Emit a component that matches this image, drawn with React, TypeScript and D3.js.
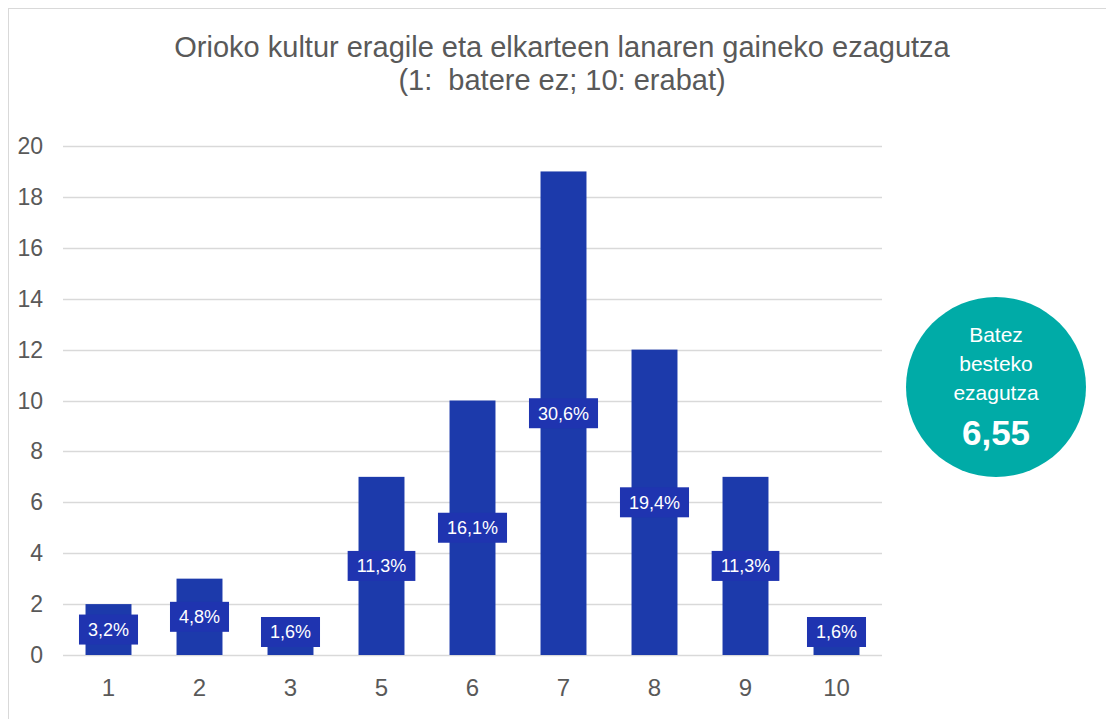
import { useEffect, useRef } from "react";
import * as d3 from "d3";

const categories = ["1", "2", "3", "5", "6", "7", "8", "9", "10"];
const counts = [2, 3, 1, 7, 10, 19, 12, 7, 1];
const percentLabels = ["3,2%", "4,8%", "1,6%", "11,3%", "16,1%", "30,6%", "19,4%", "11,3%", "1,6%"];
const yTicks = [0, 2, 4, 6, 8, 10, 12, 14, 16, 18, 20];
const titleLines = ["Orioko kultur eragile eta elkarteen lanaren gaineko ezagutza", "(1:  batere ez; 10: erabat)"];
const badgeLines = ["Batez", "besteko", "ezagutza"];
const badgeValue = "6,55";

export default function App() {
  const ref = useRef<SVGSVGElement>(null);

  useEffect(() => {
    if (!ref.current) return;
    const svg = d3.select(ref.current);
    svg.selectAll("*").remove();

    const width = 1106;
    const height = 719;
    const margin = { top: 146, right: 224, bottom: 64, left: 63 };
    const font = "'Liberation Sans', Arial, sans-serif";
    const textColor = "#595959";

    svg.attr("width", width).attr("height", height).style("font-family", font);

    // outer frame
    svg
      .append("rect")
      .attr("x", 8.5)
      .attr("y", 8.5)
      .attr("width", 1200)
      .attr("height", 800)
      .attr("fill", "#fff")
      .attr("stroke", "#d9d9d9");

    const x = d3
      .scaleBand()
      .domain(categories)
      .range([margin.left, width - margin.right])
      .paddingInner(0.495)
      .paddingOuter(0.2475);

    const y = d3
      .scaleLinear()
      .domain([0, 20])
      .range([height - margin.bottom, margin.top]);

    // gridlines
    svg
      .append("g")
      .selectAll("line")
      .data(yTicks)
      .join("line")
      .attr("x1", margin.left)
      .attr("x2", width - margin.right)
      .attr("y1", (d) => Math.round(y(d)) + 0.5)
      .attr("y2", (d) => Math.round(y(d)) + 0.5)
      .attr("stroke", "#d9d9d9")
      .attr("stroke-width", 1.5);

    // y labels
    svg
      .append("g")
      .selectAll("text")
      .data(yTicks)
      .join("text")
      .attr("x", 43)
      .attr("y", (d) => y(d))
      .attr("dy", "0.35em")
      .attr("text-anchor", "end")
      .attr("fill", textColor)
      .style("font-size", "23px")
      .text((d) => d);

    // x labels
    svg
      .append("g")
      .selectAll("text")
      .data(categories)
      .join("text")
      .attr("x", (d) => (x(d) || 0) + x.bandwidth() / 2)
      .attr("y", 696)
      .attr("text-anchor", "middle")
      .attr("fill", textColor)
      .style("font-size", "24px")
      .text((d) => d);

    const data = categories.map((c, i) => ({ c, v: counts[i], label: percentLabels[i] }));

    // bars
    svg
      .append("g")
      .selectAll("rect")
      .data(data)
      .join("rect")
      .attr("x", (d) => x(d.c) || 0)
      .attr("y", (d) => y(d.v))
      .attr("width", x.bandwidth())
      .attr("height", (d) => y(0) - y(d.v))
      .attr("fill", "#1c3aab");

    // data labels
    const boxH = 30;
    const labelY = (v: number) => Math.min(y(v / 2), y(0) - 23);
    const labels = svg.append("g").selectAll("g").data(data).join("g");
    const boxes = labels
      .append("rect")
      .attr("y", (d) => labelY(d.v) - boxH / 2)
      .attr("height", boxH)
      .attr("fill", "#1f34b0");
    const texts = labels
      .append("text")
      .attr("x", (d) => (x(d.c) || 0) + x.bandwidth() / 2)
      .attr("y", (d) => labelY(d.v))
      .attr("dy", "0.36em")
      .attr("text-anchor", "middle")
      .attr("fill", "#fff")
      .style("font-size", "18px")
      .text((d) => d.label);
    texts.each(function (d, i) {
      const w = (this as SVGTextElement).getComputedTextLength() + 18;
      d3.select(boxes.nodes()[i])
        .attr("x", (x(d.c) || 0) + x.bandwidth() / 2 - w / 2)
        .attr("width", w);
    });

    // title
    svg
      .append("g")
      .selectAll("text")
      .data(titleLines)
      .join("text")
      .attr("x", 562)
      .attr("y", (_, i) => 57 + i * 33)
      .attr("text-anchor", "middle")
      .attr("fill", textColor)
      .style("font-size", "29px")
      .style("white-space", "pre")
      .text((d) => d);

    // average badge
    const cx = 996;
    const cy = 387;
    svg.append("circle").attr("cx", cx).attr("cy", cy).attr("r", 90).attr("fill", "#00aba7");
    svg
      .append("g")
      .selectAll("text")
      .data(badgeLines)
      .join("text")
      .attr("x", cx)
      .attr("y", (_, i) => 342 + i * 29)
      .attr("text-anchor", "middle")
      .attr("fill", "#fff")
      .style("font-size", "21px")
      .text((d) => d);
    svg
      .append("text")
      .attr("x", cx)
      .attr("y", 445)
      .attr("text-anchor", "middle")
      .attr("fill", "#fff")
      .style("font-size", "35px")
      .style("font-weight", "bold")
      .text(badgeValue);
  }, []);

  return <svg ref={ref} style={{ position: "absolute", left: 0, top: 0 }}></svg>;
}
